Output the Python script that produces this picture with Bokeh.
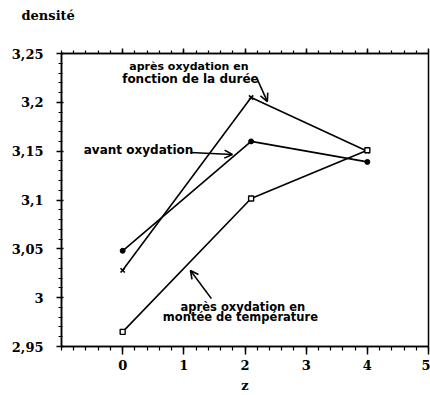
from bokeh.plotting import figure
from bokeh.models import Range1d, FixedTicker, LinearAxis, Label, Arrow, OpenHead
from bokeh.embed import file_html
from bokeh.resources import INLINE

z = [0, 2.1, 4]
avant = [3.048, 3.160, 3.139]
duree = [3.028, 3.205, 3.150]
temperature = [2.965, 3.1015, 3.151]

x_ticks = [0, 1, 2, 3, 4, 5]
y_ticks = [2.95, 3.0, 3.05, 3.1, 3.15, 3.2, 3.25]
y_labels = ["2,95", "3", "3,05", "3,1", "3,15", "3,2", "3,25"]

SERIF = "DejaVu Serif"
SANS = "DejaVu Sans"

p = figure(width=430, height=395, output_backend="svg", toolbar_location=None,
           x_range=Range1d(-1, 5), y_range=Range1d(2.95, 3.25),
           min_border_left=61, min_border_right=2, min_border_top=53, min_border_bottom=49,
           title="densité")
p.title.text_font = SERIF
p.title.text_font_style = "bold"
p.title.text_font_size = "13px"
p.title.text_color = "black"
p.title.align = "left"
p.title.offset = -40
p.title.standoff = 0
p.xgrid.visible = False
p.ygrid.visible = False
p.outline_line_color = "black"
p.outline_line_width = 1.5
p.background_fill_color = "white"
p.border_fill_color = "white"

x_minor = [round(-1 + 0.2 * i, 2) for i in range(31)]
y_minor = [round(2.95 + 0.01 * i, 2) for i in range(31)]

def style(ax):
    ax.axis_line_color = "black"
    ax.axis_line_width = 1.5
    ax.major_tick_line_width = 1.5
    ax.minor_tick_line_width = 1.2
    ax.major_tick_in = 2
    ax.major_tick_out = 5
    ax.minor_tick_in = 1
    ax.minor_tick_out = 3
    ax.major_label_text_font = SERIF
    ax.major_label_text_font_style = "bold"
    ax.major_label_text_font_size = "13px"
    ax.major_label_text_color = "black"

xa = p.xaxis[0]
xa.ticker = FixedTicker(ticks=x_ticks, minor_ticks=x_minor)
style(xa)
xa.major_tick_in = 0
xa.major_tick_out = 8
xa.minor_tick_in = 0
xa.minor_tick_out = 4
xa.major_label_standoff = 5
xa.axis_label = "z"
xa.axis_label_text_font = SERIF
xa.axis_label_text_font_style = "bold"
xa.axis_label_text_font_size = "13px"
xa.axis_label_text_color = "black"
xa.axis_label_standoff = 5

ya = p.yaxis[0]
ya.ticker = FixedTicker(ticks=y_ticks, minor_ticks=y_minor)
style(ya)
ya.major_label_overrides = {t: l for t, l in zip(y_ticks, y_labels)}
ya.major_label_standoff = 13

top = LinearAxis(ticker=FixedTicker(ticks=x_ticks, minor_ticks=x_minor))
style(top)
top.major_label_overrides = {t: " " for t in x_ticks}
top.major_label_text_font_size = "1px"
top.major_label_standoff = 22
top.major_tick_in = 0
top.minor_tick_in = 0
top.major_tick_out = 5
top.minor_tick_out = 3
p.add_layout(top, "above")

lw = 1.6
p.line(z, avant, line_color="black", line_width=lw)
p.line(z, duree, line_color="black", line_width=lw)
p.line(z, temperature, line_color="black", line_width=lw)
p.scatter(z, avant, marker="circle", size=5, fill_color="black", line_color="black")
p.scatter(z, duree, marker="x", size=6, line_color="black", line_width=1.6)
p.scatter(z, temperature, marker="square", size=5, fill_color="white", line_color="black", line_width=1.4)

def lab(x, y, t, size="12px"):
    p.add_layout(Label(x=x, y=y, text=t, text_font=SANS, text_font_style="bold",
                       text_font_size=size, text_align="center", text_baseline="middle",
                       text_color="black"))

lab(1.083, 3.2367, "après oxydation en", "11px")
lab(1.108, 3.2244, "fonction de la durée")
lab(0.26, 3.1517, "avant oxydation")
lab(1.966, 2.990, "après oxydation en", "11.5px")
lab(1.925, 2.9797, "montée de température", "11.5px")

def arrow(x0, y0, x1, y1):
    p.add_layout(Arrow(end=OpenHead(size=8, line_width=1.6, line_color="black"),
                       x_start=x0, y_start=y0, x_end=x1, y_end=y1,
                       line_width=1.6, line_color="black"))

arrow(2.203, 3.2234, 2.366, 3.2008)
arrow(1.108, 3.1486, 1.794, 3.1466)
arrow(1.451, 2.999, 1.108, 3.0278)

open("out.html", "w").write(file_html(p, INLINE))
